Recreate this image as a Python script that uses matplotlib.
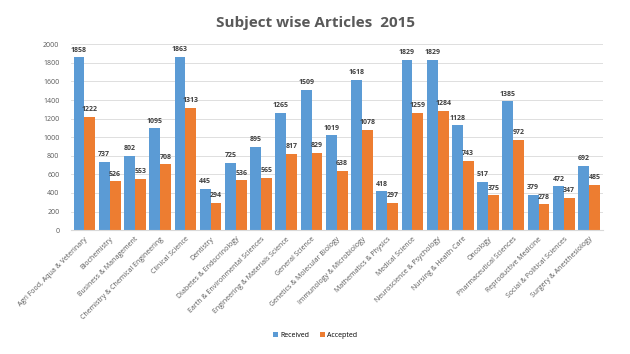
import numpy as np
import matplotlib.pyplot as plt

subjects = ['Agri Food, Aqua & Veterinary', 'Biochemistry', 'Business & Management',
            'Chemistry & Chemical Engineering', 'Clinical Science', 'Dentistry',
            'Diabetes & Endocrinology', 'Earth & Environmental Sciences',
            'Engineering & Materials Science', 'General Science',
            'Genetics & Molecular Biology', 'Immunology & Microbiology',
            'Mathematics & Physics', 'Medical Science', 'Neuroscience & Psychology',
            'Nursing & Health Care', 'Oncology', 'Pharmaceutical Sciences',
            'Reproductive Medicine', 'Social & Political Sciences',
            'Surgery & Anesthesiology']
received = [1858, 737, 802, 1095, 1863, 445, 725, 895, 1265, 1509, 1019,
            1618, 418, 1829, 1829, 1128, 517, 1385, 379, 472, 692]
accepted = [1222, 526, 553, 708, 1313, 294, 536, 565, 817, 829, 638,
            1078, 297, 1259, 1284, 743, 375, 972, 278, 347, 485]

plt.rcParams['font.family'] = ['Open Sans', 'DejaVu Sans']

fig = plt.figure(figsize=(6.3, 3.54), dpi=100)
ax = fig.add_axes([0.112, 0.35, 0.845, 0.525])

x = np.arange(len(subjects))
w = 0.43
b1 = ax.bar(x - w / 2, received, w, color='#5B9BD5', label='Received')
b2 = ax.bar(x + w / 2, accepted, w, color='#ED7D31', label='Accepted')

for bars in (b1, b2):
    for r in bars:
        ax.text(r.get_x() + r.get_width() / 2, r.get_height() + 40, str(int(r.get_height())),
                ha='center', va='bottom', fontsize=5, fontweight='bold', color='#404040')

ax.set_xlim(-0.55, len(subjects) - 0.45)
ax.set_ylim(0, 2000)
ax.set_yticks(range(0, 2001, 200))
ax.tick_params(axis='y', labelsize=5, colors='#595959', length=0, pad=8)
ax.set_xticks(x)
ax.set_xticklabels(subjects, rotation=45, ha='right', rotation_mode='anchor',
                   fontsize=5, color='#595959')
ax.tick_params(axis='x', length=0, pad=4)
ax.grid(axis='y', color='#D9D9D9', linewidth=0.6)
ax.set_axisbelow(True)
for s in ['top', 'right', 'left']:
    ax.spines[s].set_visible(False)
ax.spines['bottom'].set_color('#D9D9D9')

fig.suptitle('Subject wise Articles  2015', x=0.5, y=0.955, fontsize=11,
             fontweight='bold', color='#595959')
fig.legend(loc='lower center', bbox_to_anchor=(0.5, 0.025), ncol=2, frameon=False,
           fontsize=5, handlelength=0.7, handleheight=0.7, columnspacing=1.5,
           handletextpad=0.3)

fig.savefig('out.png', dpi=100)
